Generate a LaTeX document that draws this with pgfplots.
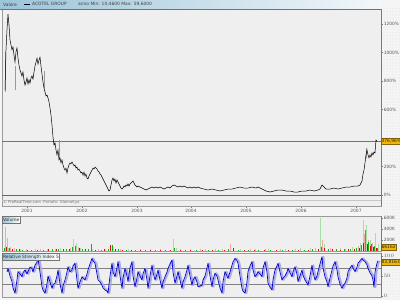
\documentclass[border=0pt]{standalone}
\usepackage{fontspec}
\setmainfont{DejaVu Sans}
\usepackage{pgfplots}
\usepackage{pgfplotstable}
\pgfplotsset{compat=1.18}
\usetikzlibrary{patterns}
\definecolor{bg}{HTML}{F5F5F5}
\definecolor{panel}{HTML}{EFEFEF}
\definecolor{frame}{HTML}{9A9A9A}
\definecolor{axisgray}{HTML}{7A7A7A}
\definecolor{hdrL}{HTML}{9CC4DA}
\definecolor{hdrR}{HTML}{F2F7FA}
\definecolor{ybox}{HTML}{F2B705}
\definecolor{rsiblue}{HTML}{0000CC}
\definecolor{rsilav}{HTML}{ABABE8}
\definecolor{vgreen}{HTML}{12B012}
\definecolor{vred}{HTML}{D01010}
\definecolor{vlgreen}{HTML}{A6DFA0}
\definecolor{vpink}{HTML}{F2A8A8}
\definecolor{volive}{HTML}{A08A20}
\newcommand{\tf}{\fontsize{4.4}{5}\selectfont}
\pgfplotstableread[row sep=\\]{
x v\\
7 60\\ 8 69\\ 10 50\\ 12 36\\ 13 20\\ 15 7\\ 17 40\\ 18 61\\ 20 55\\ 22 48\\ 23 58\\ 25 65\\ 27 55\\ 28 61\\ 30 72\\ 32 69\\ 33 60\\ 35 77\\ 37 85\\ 38 94\\ 40 60\\ 42 23\\ 43 15\\ 45 7\\ 47 30\\ 48 50\\ 50 35\\ 52 19\\ 53 28\\ 55 32\\ 57 50\\ 58 65\\ 60 30\\ 62 7\\ 63 25\\ 65 40\\ 67 60\\ 68 73\\ 70 60\\ 72 65\\ 73 75\\ 75 82\\ 77 40\\ 78 19\\ 80 35\\ 82 48\\ 83 45\\ 85 40\\ 87 55\\ 88 65\\ 90 80\\ 92 94\\ 93 88\\ 95 82\\ 97 55\\ 98 40\\ 100 35\\ 102 27\\ 103 20\\ 105 15\\ 107 12\\ 108 7\\ 110 50\\ 112 82\\ 113 60\\ 115 48\\ 117 70\\ 118 86\\ 120 50\\ 122 19\\ 123 45\\ 125 69\\ 127 50\\ 128 36\\ 130 70\\ 132 86\\ 133 50\\ 135 23\\ 137 45\\ 138 61\\ 140 50\\ 142 40\\ 143 55\\ 145 69\\ 147 40\\ 148 19\\ 150 50\\ 152 77\\ 153 60\\ 155 40\\ 157 55\\ 158 65\\ 160 40\\ 162 19\\ 163 35\\ 165 48\\ 167 60\\ 168 69\\ 170 80\\ 172 90\\ 173 60\\ 175 32\\ 177 50\\ 178 61\\ 180 40\\ 182 19\\ 183 35\\ 185 48\\ 187 65\\ 188 77\\ 190 50\\ 192 27\\ 193 40\\ 195 48\\ 197 35\\ 198 23\\ 200 25\\ 202 27\\ 203 40\\ 205 50\\ 207 70\\ 208 82\\ 210 50\\ 212 23\\ 213 40\\ 215 57\\ 217 50\\ 218 40\\ 220 20\\ 222 7\\ 223 35\\ 225 61\\ 227 50\\ 228 44\\ 230 60\\ 232 77\\ 233 85\\ 235 94\\ 237 88\\ 238 82\\ 240 50\\ 242 19\\ 243 12\\ 245 7\\ 247 35\\ 248 61\\ 250 75\\ 252 86\\ 253 65\\ 255 48\\ 257 55\\ 258 61\\ 260 55\\ 262 48\\ 263 70\\ 265 86\\ 267 60\\ 268 32\\ 270 22\\ 272 15\\ 273 40\\ 275 65\\ 277 75\\ 278 82\\ 280 60\\ 282 40\\ 283 45\\ 285 50\\ 287 60\\ 288 69\\ 290 58\\ 292 48\\ 293 60\\ 295 73\\ 297 55\\ 298 36\\ 300 50\\ 302 65\\ 303 52\\ 305 40\\ 307 32\\ 308 27\\ 310 50\\ 312 77\\ 313 60\\ 315 40\\ 317 50\\ 318 61\\ 320 80\\ 322 98\\ 323 70\\ 325 48\\ 327 35\\ 328 23\\ 330 45\\ 332 65\\ 333 75\\ 335 86\\ 337 65\\ 338 48\\ 340 30\\ 342 19\\ 343 25\\ 345 32\\ 347 45\\ 348 61\\ 350 70\\ 352 77\\ 353 70\\ 355 61\\ 357 72\\ 358 82\\ 360 88\\ 362 94\\ 363 90\\ 365 86\\ 367 78\\ 368 69\\ 370 58\\ 372 50\\ 373 40\\ 374 22\\ 375 60\\ 377 82\\ 378 88\\
}\rsidata
\pgfplotsset{panel/.style={scale only axis, xmin=2, xmax=381,
  axis background/.style={fill=panel}, axis line style={frame, line width=0.5pt},
  tick style={axisgray, line width=0.5pt}, major tick length=2pt, minor tick length=1.3pt,
  tick align=outside, ytick pos=right, yticklabel pos=right, xtick=\empty,
  ticklabel style={font=\tf, text=black!65, inner sep=0.6pt},
  clip mode=individual}}
\begin{document}
\begin{tikzpicture}
\useasboundingbox (0pt,0pt) rectangle (400pt,300pt);
\fill[bg] (0pt,0pt) rectangle (400pt,300pt);
\fill[pattern=dots, pattern color=black!14] (381pt,0pt) rectangle (400pt,291pt);
% ---------------- main price panel
\begin{axis}[panel, at={(2pt,94pt)}, anchor=south west, width=379pt, height=197pt,
  ymin=-77.2, ymax=1305.3,
  ytick={0,200,...,1200}, yticklabels={0\%,200\%,,600\%,800\%,1000\%,1200\%},
  minor ytick={100,300,...,1100},
  xtick={27,82,137,191,246,301,356}, xticklabels={2001,2002,2003,2004,2005,2006,2007},
  xtick pos=bottom]
\draw[axisgray, line width=0.9pt] (rel axis cs:1,0) -- (rel axis cs:1,1);
\addplot[black!60, line width=0.4pt] coordinates {(2,0) (381,0)};
\addplot[black!22, line width=0.4pt] coordinates {(2,-35) (381,-35)};
\addplot[black!55, line width=0.4pt] coordinates {(2,376.96) (381,376.96)};
\addplot[black!40, line width=0.5pt] coordinates {(5,723) (5,1004)};
\addplot[black!40, line width=0.5pt] coordinates {(15,737) (15,905)};
\addplot[black!40, line width=0.5pt] coordinates {(44,751) (44,870)};
\addplot[black!40, line width=0.5pt] coordinates {(59,260) (59,386)};
\addplot[black!40, line width=0.5pt] coordinates {(366,260) (366,330)};
\addplot[black, line width=0.5pt] coordinates {
(5,737) (6,1018) (7,1158) (8,1270) (9,1193) (10,1088) (11,1053) (12,1018) (13,1039) (14,982)
(15,933) (16,1004) (17,1032) (18,961) (19,912) (20,877) (21,856) (22,835) (23,863) (24,807)
(25,772) (26,793) (27,821) (28,779) (29,807) (30,786) (31,821) (32,835) (33,814) (34,863)
(35,905) (36,933) (37,961) (38,919) (39,947) (40,968) (41,905) (42,849) (43,793) (44,751)
(45,723) (46,695) (47,702) (48,681) (49,653) (50,611) (51,561) (52,491) (53,407) (54,351)
(55,365) (56,316) (57,281) (58,316) (59,246) (60,260) (61,225) (62,246) (63,211) (64,189)
(65,175) (66,189) (67,154) (68,189) (69,211) (70,225) (71,218) (72,232) (73,218) (74,204)
(75,211) (76,189) (77,196) (78,175) (79,182) (80,168) (81,154) (82,161) (83,140) (84,161)
(85,133) (86,147) (87,119) (88,112) (89,133) (90,147) (91,161) (92,175) (93,189) (94,182)
(95,196) (96,189) (97,182) (98,168) (99,161) (100,147) (101,140) (102,126) (103,112) (104,98)
(105,84) (106,70) (107,56) (108,42) (109,28) (110,35) (111,70) (112,105) (113,119) (114,98)
(115,112) (116,84) (117,105) (118,91) (119,77) (120,63) (121,49) (122,42) (123,49) (124,63)
(125,56) (126,70) (127,63) (128,77) (129,63) (130,77) (131,84) (132,91) (133,98) (134,84)
(135,70) (136,63) (137,56) (138,63) (140,56) (142,49) (144,42) (146,35) (148,42) (150,49)
(152,56) (154,49) (156,56) (158,49) (160,56) (162,49) (164,42) (166,49) (168,56) (170,49)
(172,63) (174,70) (176,63) (178,56) (180,63) (182,56) (184,63) (186,56) (188,49) (190,56)
(192,49) (194,56) (196,49) (198,56) (200,49) (204,42) (208,35) (212,42) (216,35) (220,28)
(224,35) (228,42) (232,42) (236,49) (240,56) (244,49) (248,49) (252,56) (256,49) (258,56)
(262,42) (266,28) (270,21) (274,28) (278,35) (282,35) (286,28) (290,28) (294,21) (298,21)
(302,28) (306,28) (310,35) (314,28) (318,35) (320,42) (322,70) (324,56) (326,42) (330,42)
(334,49) (338,42) (342,49) (346,56) (350,56) (354,63) (358,63) (360,70) (362,98) (363,147)
(364,175) (365,225) (366,281) (367,316) (368,281) (369,260) (370,281) (371,267) (372,295)
(373,281) (374,302) (375,295) (376,386) (377,377)};
\node[fill=ybox, draw=ybox!55!black, line width=0.3pt, font=\tf, text=black!85, inner sep=0.5pt,
  minimum height=6pt, anchor=west] at (axis cs:381,376.96) {376,96\%};
\end{axis}
\node[anchor=west, font=\fontsize{3.8}{4}\selectfont, text=black!55, inner sep=0] at (3pt,97.5pt)
  {\textcopyright\ ProRealTime.com\ \ Portafo: Glomaltyo};
% header
\shade[left color=hdrL, right color=hdrR] (0pt,291pt) rectangle (381pt,300pt);
\draw[black!55, line width=0.6pt] (0pt,291pt) -- (381pt,291pt);
\node[anchor=west, font=\tf, text=black!75, inner sep=0] at (3pt,295.6pt) {Valore};
\draw[black, line width=1.1pt] (24pt,295.6pt) -- (30pt,295.6pt);
\node[anchor=west, font=\tf, text=black!75, inner sep=0] at (32pt,295.6pt) {ACOTEL GROUP};
\node[anchor=west, font=\tf, text=black!75, inner sep=0] at (78pt,295.6pt) {anno Min: 10,4600 Max: 59,6000};
% ---------------- volume panel
\begin{axis}[panel, at={(2pt,49pt)}, anchor=south west, width=379pt, height=35pt,
  ymin=0, ymax=636, ytick={200,400,600}, yticklabels={200K,400K,600K}]
\draw[axisgray, line width=0.9pt] (rel axis cs:1,0) -- (rel axis cs:1,1);
\addplot[vlgreen, ycomb, line width=0.8pt] coordinates {(5,160) (8,60) (20,40) (35,30) (47,35) (60,50) (73,218) (76,150) (80,60) (92,45) (105,40) (113,70) (128,35) (150,30) (173,218) (176,60) (190,40) (205,35) (222,45) (240,40) (255,35) (268,40) (285,45) (300,50) (310,60) (320,600) (324,120) (340,60) (352,80) (360,150) (363,560) (366,480) (370,200) (375,330) (378,120)};
\addplot[vpink, ycomb, line width=0.8pt] coordinates {(5,436) (7,236) (10,80) (14,50) (26,40) (40,35) (55,45) (70,60) (78,80) (98,40) (110,90) (120,40) (140,30) (160,35) (180,30) (200,40) (215,35) (230,120) (250,40) (265,30) (280,40) (295,35) (315,50) (322,200) (330,60) (345,40) (358,90) (364,300) (368,200) (372,150)};
\addplot[vgreen, ycomb, line width=0.8pt] coordinates {(4,60) (9,50) (16,30) (22,25) (31,20) (43,25) (52,30) (58,35) (66,40) (72,70) (75,90) (82,40) (88,30) (91,130) (101,25) (108,35) (112,110) (118,30) (126,25) (135,20) (145,25) (155,20) (165,22) (174,60) (185,25) (196,20) (208,22) (218,25) (228,30) (238,22) (248,25) (258,20) (270,22) (282,25) (292,20) (304,22) (312,30) (321,80) (328,40) (336,30) (344,35) (350,40) (356,50) (361,100) (368,170) (371,120) (374,90) (377,60)};
\addplot[vred, ycomb, line width=0.8pt] coordinates {(6,70) (12,40) (19,30) (27,25) (37,20) (48,30) (56,40) (63,35) (69,45) (79,50) (85,30) (95,25) (104,30) (110,100) (115,45) (122,25) (131,20) (140,25) (150,20) (160,22) (170,25) (180,20) (190,22) (202,20) (212,25) (224,22) (233,60) (244,20) (254,22) (264,20) (276,22) (288,20) (298,22) (308,25) (318,30) (324,60) (332,30) (340,25) (348,30) (354,35) (359,60) (363,150) (367,120) (370,90) (373,80) (376,50)};
\addplot[volive, ycomb, line width=0.8pt] coordinates {(365,380)};
\node[fill=ybox, draw=ybox!55!black, line width=0.3pt, font=\tf, text=black!85, inner sep=0.5pt,
  minimum height=6pt, anchor=west] at (axis cs:381,66.162) {66162};
\end{axis}
\node[draw=black!55, line width=0.4pt, left color=hdrL, right color=white, anchor=north west,
  font=\tf, text=black!80, inner sep=0.8pt, minimum height=7pt] at (2pt,83.5pt) {Volume};
% ---------------- RSI panel
\begin{axis}[panel, at={(2pt,3pt)}, anchor=south west, width=379pt, height=44pt,
  ymin=-2.5, ymax=107.5, ytick={0,50,100}]
\draw[axisgray, line width=0.9pt] (rel axis cs:1,0) -- (rel axis cs:1,1);
\addplot[black!50, line width=0.4pt] coordinates {(2,30) (381,30)};
\addplot[black!50, line width=0.4pt] coordinates {(2,70) (381,70)};
\addplot[rsilav, line width=1.8pt, line join=round] table[x expr=\thisrow{x}+1.5, y=v] {\rsidata};
\addplot[rsiblue, line width=0.7pt, line join=round] table[x=x, y=v] {\rsidata};
\node[fill=ybox, draw=ybox!55!black, line width=0.3pt, font=\tf, text=black!85, inner sep=0.5pt,
  minimum height=6pt, anchor=west] at (axis cs:381,83.8) {83,8163};
\end{axis}
\node[draw=black!55, line width=0.4pt, left color=hdrL, right color=white, anchor=north west,
  font=\tf, text=black!80, inner sep=0.8pt, minimum height=7pt] at (2pt,46.5pt) {Relative Strength Index 5};
\end{tikzpicture}
\end{document}
